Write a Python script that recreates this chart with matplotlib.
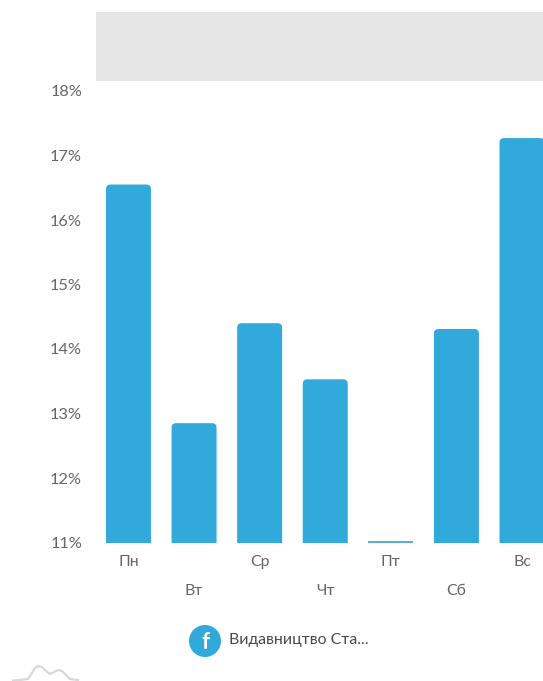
import matplotlib
matplotlib.use('Agg')
import matplotlib.pyplot as plt
from matplotlib.patches import FancyBboxPatch, Circle, Rectangle

plt.rcParams['font.family'] = ['Lato', 'DejaVu Sans']

days = ['Пн', 'Вт', 'Ср', 'Чт', 'Пт', 'Сб', 'Вс']
shares = [16.55, 12.85, 14.40, 13.53, 11.02, 14.31, 17.27]
y_ticks = [11, 12, 13, 14, 15, 16, 17, 18]
page_name = 'Видавництво Ста...'
logo_x = [13, 20, 28, 32, 35, 38, 42, 46, 50, 54, 58, 62, 66, 70, 78]
logo_y = [680.5, 680, 679, 673, 668, 666, 667, 671, 674, 672, 670, 671, 675, 679, 680]

BAR_BLUE = '#31A9DB'
TEXT_GREY = '#666666'
W, H = 543, 681

fig = plt.figure(figsize=(W / 100, H / 100), dpi=100)

# overlay in pixel coordinates for the header band, badge and logo
deco = fig.add_axes([0, 0, 1, 1])
deco.set_xlim(0, W)
deco.set_ylim(H, 0)
deco.axis('off')
deco.add_patch(Rectangle((96, 12), W - 96, 69, color='#E6E6E6', lw=0))
deco.add_patch(Circle((205, 641), 16, color=BAR_BLUE, lw=0))
deco.text(205.5, 642.5, 'f', color='white', fontsize=16, fontweight='bold',
          ha='center', va='center')
deco.text(229, 640, page_name, color='#4A4A4A', fontsize=11.4, ha='left', va='center')
deco.plot(logo_x, logo_y, color='#D8D8D8', lw=1.6, clip_on=False)

# bar axes: 11% sits at y=542, 18% at y=91
ax = fig.add_axes([96 / W, 1 - 542.5 / H, (W - 96) / W, 451.5 / H])
ax.patch.set_alpha(0)
ax.set_xlim(-0.495, 6.32)
ax.set_ylim(11, 18)

bar_w = 45 / 65.6
for i, val in enumerate(shares):
    if val - 11 < 0.1:
        ax.bar(i, val - 11, bar_w, bottom=11, color='#5BAFD0', lw=0)
        continue
    # base runs below the axis and gets clipped, so only the top corners stay round
    ax.add_patch(FancyBboxPatch((i - bar_w / 2, 10.8), bar_w, val - 10.8,
                                boxstyle='round,pad=0,rounding_size=0.07',
                                mutation_aspect=1.02, color=BAR_BLUE, lw=0))

for side in ax.spines.values():
    side.set_visible(False)
ax.set_yticks(y_ticks)
ax.set_yticklabels([f'{t}%' for t in y_ticks], fontsize=11.8, color=TEXT_GREY)
ax.tick_params(axis='y', length=0, pad=10)
ax.set_xticks(range(len(days)))
ax.set_xticklabels(days, fontsize=11.4, color=TEXT_GREY)
ax.tick_params(axis='x', length=0)
# every second day label drops to a lower row
for i, tick in enumerate(ax.xaxis.get_major_ticks()):
    tick.set_pad(9 if i % 2 == 0 else 30)

fig.savefig('out.png', dpi=100)
